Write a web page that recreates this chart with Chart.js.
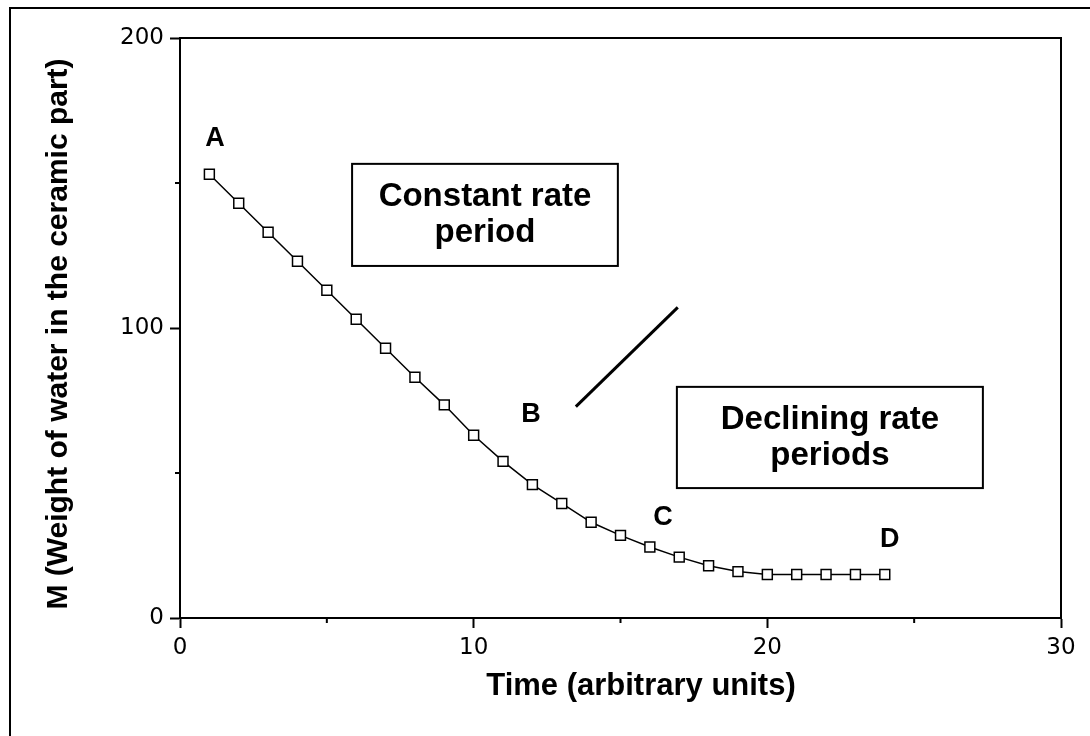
<!DOCTYPE html>
<html>
<head>
<meta charset="utf-8">
<script src="https://cdn.jsdelivr.net/npm/chart.js@4.4.0/dist/chart.umd.min.js"></script>
<style>
  html, body { margin: 0; padding: 0; background: #fff; }
  #wrap { width: 1090px; height: 736px; }
</style>
</head>
<body>
<div id="wrap"><canvas id="dryingChart" width="1090" height="736"></canvas></div>
<script>
// data
const times = [1, 2, 3, 4, 5, 6, 7, 8, 9, 10, 11, 12, 13, 14, 15, 16, 17, 18, 19, 20, 21, 22, 23, 24];
const water = [153, 143, 133, 123, 113, 103, 93, 83, 73.5, 63, 54, 46, 39.5, 33, 28.5, 24.5, 21, 18, 16, 15, 15, 15, 15, 15];
const xTicks = [0, 10, 20, 30];
const xMinorTicks = [5, 15, 25];
const yTicks = [0, 100, 200];
const yMinorTicks = [50, 150];
const pointLabels = ['A', 'B', 'C', 'D'];

// where the annotations sit, in data units
const labelSpots = [[1.19, 165.2], [11.95, 70], [16.45, 34.8], [24.17, 26.9]];
const boxes = [
    { x0: 5.86, x1: 14.91, y0: 156.6, y1: 121.4, lines: ['Constant rate', 'period'] },
    { x0: 16.92, x1: 27.34, y0: 79.7, y1: 44.8, lines: ['Declining rate', 'periods'] }
];
const divider = [[13.48, 72.9], [16.95, 107.1]];

const boldFont = '"Liberation Sans", Arial, sans-serif';

const decorations = {
    id: 'decorations',
    afterDraw(chart) {
        const { ctx, chartArea: a } = chart;
        const x = chart.scales.x, y = chart.scales.y;
        ctx.save();
        ctx.strokeStyle = '#000';
        ctx.fillStyle = '#000';

        // top and right side of the plot frame
        ctx.lineWidth = 2;
        ctx.beginPath();
        ctx.moveTo(a.left - 1, a.top);
        ctx.lineTo(a.right, a.top);
        ctx.lineTo(a.right, a.bottom + 1);
        ctx.stroke();

        // short minor ticks
        ctx.beginPath();
        xMinorTicks.forEach(v => {
            const px = x.getPixelForValue(v);
            ctx.moveTo(px, a.bottom);
            ctx.lineTo(px, a.bottom + 5);
        });
        yMinorTicks.forEach(v => {
            const py = y.getPixelForValue(v);
            ctx.moveTo(a.left, py);
            ctx.lineTo(a.left - 5, py);
        });
        ctx.stroke();

        // page border (left and top edges)
        ctx.beginPath();
        ctx.moveTo(10, 736);
        ctx.lineTo(10, 8);
        ctx.lineTo(1090, 8);
        ctx.stroke();

        // axis titles
        ctx.textAlign = 'center';
        ctx.textBaseline = 'alphabetic';
        ctx.font = 'bold 31px ' + boldFont;
        ctx.fillText('Time (arbitrary units)', 641, 695);
        ctx.save();
        ctx.translate(67, 334);
        ctx.rotate(-Math.PI / 2);
        ctx.font = 'bold 30px ' + boldFont;
        ctx.fillText('M (Weight of water in the ceramic part)', 0, 0);
        ctx.restore();

        // A B C D
        ctx.textBaseline = 'middle';
        ctx.font = 'bold 27px ' + boldFont;
        pointLabels.forEach((t, i) => {
            ctx.fillText(t, x.getPixelForValue(labelSpots[i][0]), y.getPixelForValue(labelSpots[i][1]));
        });

        // boxed captions
        ctx.font = 'bold 33px ' + boldFont;
        boxes.forEach(b => {
            const l = x.getPixelForValue(b.x0), r = x.getPixelForValue(b.x1);
            const t = y.getPixelForValue(b.y0), btm = y.getPixelForValue(b.y1);
            ctx.lineWidth = 2;
            ctx.strokeRect(l, t, r - l, btm - t);
            const cx = (l + r) / 2, cy = (t + btm) / 2;
            ctx.fillText(b.lines[0], cx, cy - 18);
            ctx.fillText(b.lines[1], cx, cy + 18);
        });

        // separator stroke
        ctx.lineWidth = 3;
        ctx.beginPath();
        ctx.moveTo(x.getPixelForValue(divider[0][0]), y.getPixelForValue(divider[0][1]));
        ctx.lineTo(x.getPixelForValue(divider[1][0]), y.getPixelForValue(divider[1][1]));
        ctx.stroke();
        ctx.restore();
    }
};

const tickFont = { family: '"DejaVu Sans", Verdana, sans-serif', size: 23 };

new Chart(document.getElementById('dryingChart'), {
    type: 'scatter',
    data: {
        datasets: [{
            label: 'M',
            data: times.map((t, i) => ({ x: t, y: water[i] })),
            showLine: true,
            borderColor: '#000',
            borderWidth: 1.5,
            tension: 0,
            pointStyle: 'rect',
            pointRadius: 7,
            pointBorderWidth: 1.5,
            pointBorderColor: '#000',
            pointBackgroundColor: '#fff'
        }]
    },
    options: {
        responsive: false,
        animation: false,
        devicePixelRatio: 1,
        layout: { padding: { top: 38, right: 29, left: 0, bottom: 0 } },
        scales: {
            x: {
                type: 'linear',
                min: 0,
                max: 30,
                afterBuildTicks: s => { s.ticks = xTicks.map(v => ({ value: v })); },
                afterFit: s => { s.height = 118; },
                ticks: { color: '#000', font: tickFont, padding: 6, maxRotation: 0 },
                grid: { drawOnChartArea: false, tickLength: 10, tickColor: '#000', tickWidth: 2 },
                border: { color: '#000', width: 2 }
            },
            y: {
                min: 0,
                max: 200,
                afterBuildTicks: s => { s.ticks = yTicks.map(v => ({ value: v })); },
                afterFit: s => { s.width = 180; },
                ticks: { color: '#000', font: tickFont, padding: 6 },
                grid: { drawOnChartArea: false, tickLength: 10, tickColor: '#000', tickWidth: 2 },
                border: { color: '#000', width: 2 }
            }
        },
        plugins: {
            legend: { display: false },
            tooltip: { enabled: false }
        }
    },
    plugins: [decorations]
});
</script>
</body>
</html>
